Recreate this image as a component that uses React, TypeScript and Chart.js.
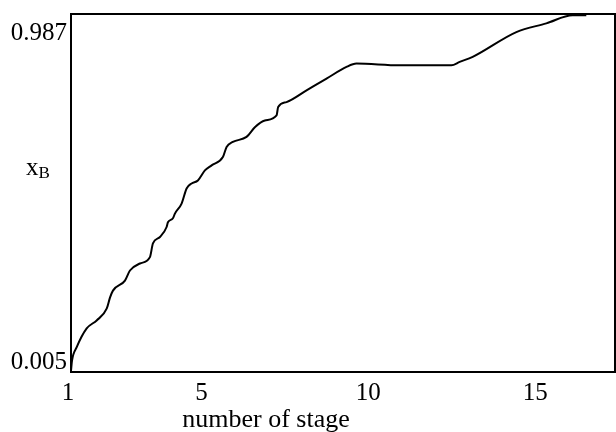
import React, { useEffect, useRef } from "react";
import { Chart, registerables } from "chart.js";
Chart.register(...registerables);

// number of stage (x) and liquid composition x_B (y)
const stages = [1.0, 1.03, 1.171, 1.47, 1.769, 2.069, 2.168, 2.257, 2.617, 2.766, 3.066, 3.365, 3.455, 3.665, 3.865, 3.904, 4.054, 4.114, 4.314, 4.464, 4.614, 4.802, 5.012, 5.213, 5.551, 5.662, 5.85, 6.26, 6.509, 6.808, 7.159, 7.207, 7.458, 8.057, 8.656, 9.254, 9.554, 10.85, 12.398, 12.647, 13.036, 14.344, 15.243, 16.03, 16.44];
const xB = [-0.019, 0.011, 0.051, 0.107, 0.131, 0.166, 0.199, 0.22, 0.25, 0.28, 0.301, 0.32, 0.361, 0.38, 0.41, 0.424, 0.436, 0.45, 0.48, 0.525, 0.54, 0.549, 0.579, 0.594, 0.619, 0.649, 0.664, 0.679, 0.708, 0.728, 0.743, 0.768, 0.783, 0.818, 0.853, 0.888, 0.898, 0.893, 0.893, 0.903, 0.918, 0.992, 1.018, 1.042, 1.042];
const xTicks = [1, 5, 10, 15];
const yTicks = [0.005, 0.987];
const xTitle = "number of stage";
const yTitle = "x";
const yTitleSub = "B";

const FONT = "'Liberation Serif', 'Times New Roman', serif";

export default function App() {
  const ref = useRef<HTMLCanvasElement>(null);
  useEffect(() => {
    if (!ref.current) return;
    const frame = {
      id: "frame",
      afterDatasetsDraw(chart: any) {
        const { ctx, chartArea: a } = chart;
        ctx.save();
        ctx.strokeStyle = "#000";
        ctx.lineWidth = 2;
        ctx.strokeRect(a.left, a.top, a.right - a.left, a.bottom - a.top);
        ctx.restore();
      },
    };
    const titles = {
      id: "titles",
      afterDraw(chart: any) {
        const { ctx, chartArea: a } = chart;
        ctx.save();
        ctx.fillStyle = "#000";
        ctx.textBaseline = "alphabetic";
        ctx.font = `26px ${FONT}`;
        ctx.textAlign = "center";
        ctx.fillText(xTitle, a.left + 195, 427);
        ctx.textAlign = "left";
        ctx.font = `25px ${FONT}`;
        ctx.fillText(yTitle, 26, 175);
        const w = ctx.measureText(yTitle).width;
        ctx.font = `17px ${FONT}`;
        ctx.fillText(yTitleSub, 26 + w, 178);
        ctx.restore();
      },
    };
    const chart = new Chart(ref.current, {
      type: "line",
      data: {
        datasets: [
          {
            data: stages.map((s, i) => ({ x: s, y: xB[i] })),
            borderColor: "#000",
            borderWidth: 2,
            pointRadius: 0,
            cubicInterpolationMode: "monotone",
            fill: false,
          },
        ],
      },
      options: {
        animation: false,
        responsive: true,
        maintainAspectRatio: false,
        layout: { padding: { top: 14, right: 1, left: 0, bottom: 0 } },
        plugins: { legend: { display: false }, tooltip: { enabled: false } },
        scales: {
          x: {
            type: "linear",
            min: 1,
            max: 17.3,
            afterBuildTicks: (s: any) => {
              s.ticks = xTicks.map((v) => ({ value: v }));
            },
            afterFit: (s: any) => {
              s.height = 60;
              s.paddingLeft = 0;
              s.paddingRight = 0;
            },
            grid: { display: false, drawTicks: false },
            border: { display: true, color: "#000", width: 2 },
            ticks: {
              color: "#000",
              font: { family: FONT, size: 25 },
              padding: 6,
              maxRotation: 0,
              autoSkip: false,
              labelOffset: -3,
              callback: (v: any) => String(v),
            },
          },
          y: {
            type: "linear",
            min: -0.023,
            max: 1.046,
            afterBuildTicks: (s: any) => {
              s.ticks = yTicks.map((v) => ({ value: v }));
            },
            afterFit: (s: any) => {
              s.width = 71;
              s.paddingTop = 0;
              s.paddingBottom = 0;
            },
            grid: { display: false, drawTicks: false },
            border: { display: true, color: "#000", width: 2 },
            ticks: {
              color: "#000",
              font: { family: FONT, size: 25 },
              padding: 4,
              autoSkip: false,
              callback: (v: any) => Number(v).toFixed(3),
            },
          },
        },
      },
      plugins: [frame, titles],
    } as any);
    return () => chart.destroy();
  }, []);
  return (
    <div style={{ position: "absolute", left: 0, top: 0, width: 616, height: 432 }}>
      <canvas ref={ref} />
    </div>
  );
}
